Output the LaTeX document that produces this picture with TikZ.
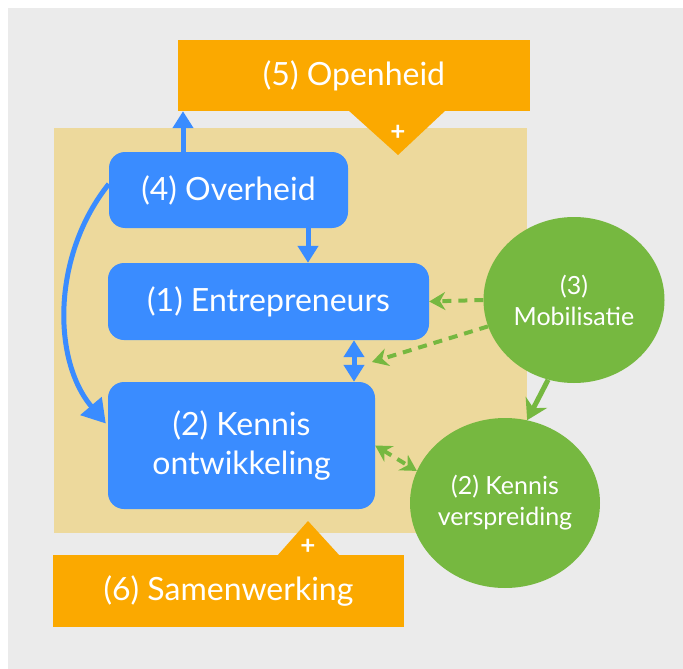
\documentclass[tikz,border=0pt]{standalone}
\usepackage{fontspec}
\setmainfont{Lato}
\usetikzlibrary{arrows.meta,shapes.geometric,calc}
\definecolor{bgray}{HTML}{EBEBEB}
\definecolor{tanc}{HTML}{EDD99C}
\definecolor{oran}{HTML}{FBA900}
\definecolor{blu}{HTML}{3A8CFF}
\definecolor{grn}{HTML}{76B840}
\begin{document}
\begin{tikzpicture}[x=1pt,y=-1pt,
  bluebox/.style={fill=blu,rounded corners=16pt,text=white,font=\fontsize{32}{39}\selectfont,align=center,inner sep=0pt},
  orbox/.style={fill=oran,text=white,font=\fontsize{32}{38}\selectfont,inner sep=0pt},
  greencirc/.style={ellipse,fill=grn,text=white,font=\fontsize{25}{31}\selectfont,align=center,inner sep=0pt},
  plussign/.style={text=white,font=\bfseries\fontsize{26}{26}\selectfont,inner sep=0pt},
  bluearrow/.style={draw=blu,line width=5pt,-{Triangle[width=20pt,length=17pt]}},
  greendash/.style={draw=grn,line width=4pt,dash pattern=on 9pt off 7pt,-{Stealth[width=18pt,length=16pt]}},
  greenarrow/.style={draw=grn,line width=5pt,-{Stealth[width=24pt,length=20pt]}}]
\useasboundingbox (0,0) rectangle (683,669);
\fill[white] (0,0) rectangle (683,669);
\fill[bgray] (8,8) rectangle (683,669);
\fill[tanc] (54,128) rectangle (527,533);
% orange boxes
\node[orbox,minimum width=352pt,minimum height=71pt] (open) at (354,75.5) {(5) Openheid};
\fill[oran] (348,110) -- (446,110) -- (398,155) -- cycle;
\node[plussign] (p1) at (398,133) {+};
\node[orbox,minimum width=351pt,minimum height=72pt] (samen) at (228.5,591) {(6) Samenwerking};
\fill[oran] (277,556) -- (340,556) -- (308,521) -- cycle;
\node[plussign] (p2) at (308,547) {+};
% blue boxes
\node[bluebox,minimum width=239pt,minimum height=76pt] (ov) at (228.5,190) {(4) Overheid};
\node[bluebox,minimum width=321pt,minimum height=77pt] (ent) at (268.5,301.5) {(1) Entrepreneurs};
\node[bluebox,minimum width=267pt,minimum height=127pt] (ko) at (241.5,445.5) {(2) Kennis\\ontwikkeling};
% green circles
\node[greencirc,minimum width=181pt,minimum height=166pt] (mob) at (574,300) {(3)\\Mobilisatie};
\node[greencirc,minimum width=185pt,minimum height=170pt] (kv) at (505,503) {(2) Kennis\\verspreiding};
\coordinate (mid) at (372,362);
% arrows
\draw[bluearrow] (183,0 |- ov.north) -- (183,0 |- open.south);
\draw[bluearrow] (308,0 |- ov.south) -- (308,0 |- ent.north);
\draw[bluearrow,{Triangle[width=20pt,length=17pt]}-{Triangle[width=20pt,length=17pt]}] (354,0 |- ent.south) -- (354,0 |- ko.north);
\draw[bluearrow,-{Triangle[width=27pt,length=23pt]}] ($(ov.west)+(0,-6)$) .. controls (52,255) and (52,360) .. ($(ko.west)+(-2,-22)$);
\draw[greendash] (mob.west) -- (ent.east);
\draw[greendash] (mob) -- (mid);
\draw[greenarrow] (mob.252) -- (kv.75);
\draw[greendash,{Stealth[width=18pt,length=16pt]}-{Stealth[width=18pt,length=16pt]}] (ko.east) -- (kv.160);
\end{tikzpicture}
\end{document}
